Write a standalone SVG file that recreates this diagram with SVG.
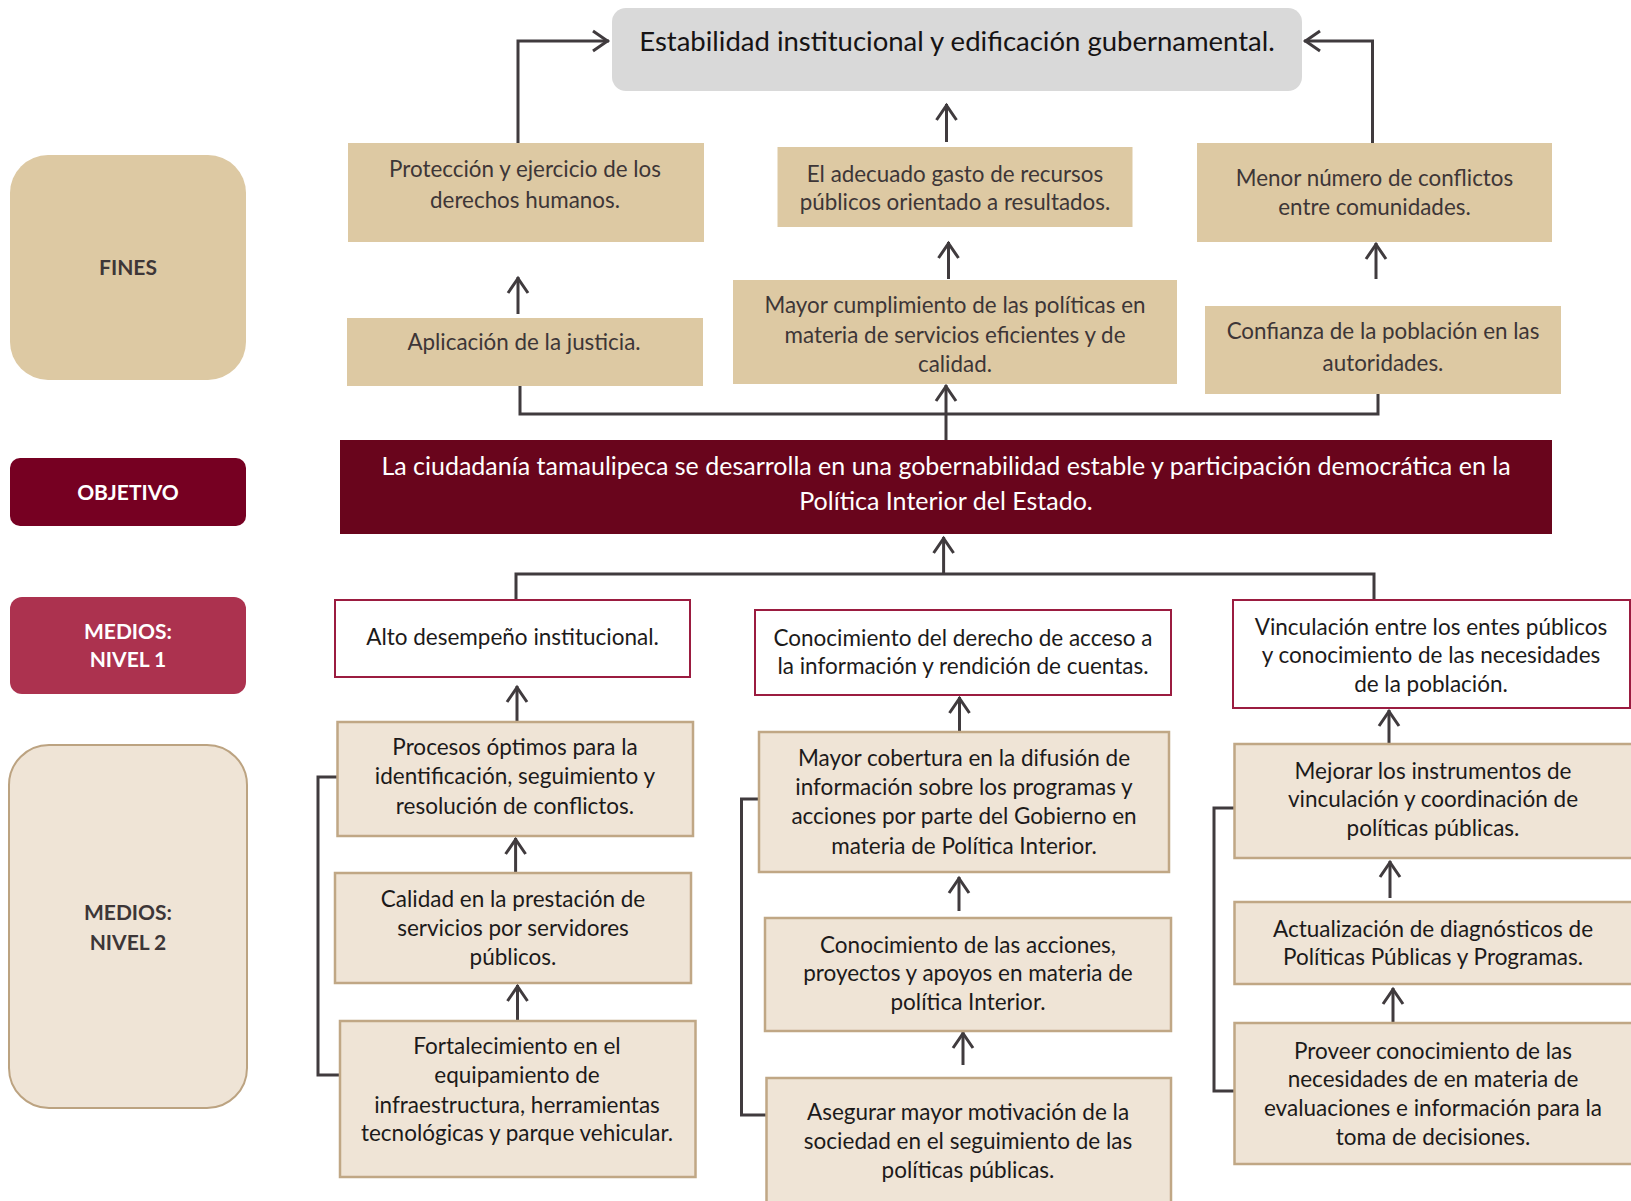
<svg xmlns="http://www.w3.org/2000/svg" width="1631" height="1201" viewBox="0 0 1631 1201">
<style>
text{font-family:Lato,"Open Sans","Liberation Sans",sans-serif;text-anchor:middle}
.fin{fill:#ddc9a3}
.ft{font-size:22.4px;fill:#3d3637}
.lab{font-size:21px;font-weight:bold}
.n1{fill:#fff;stroke:#9b1c40;stroke-width:2}
.n2{fill:#efe4d6;stroke:#c0a785;stroke-width:2.5}
.t{font-size:22.5px;fill:#1c1a1a}
.c{fill:none;stroke:#403b3e;stroke-width:3}
.a{marker-end:url(#ah)}
</style>
<defs>
<marker id="ah" markerUnits="userSpaceOnUse" markerWidth="40" markerHeight="40" viewBox="-20 -20 40 40" refX="0" refY="0" orient="auto" overflow="visible">
<path d="M-16,-10 L-1.5,0 L-16,10" fill="none" stroke="#403b3e" stroke-width="3"/>
</marker>
</defs>

<g id="connectors">
<path class="c a" d="M518,143 V41 H609"/>
<path class="c a" d="M1372.5,143 V41 H1304"/>
<path class="c a" d="M946.5,142 V104"/>
<path class="c a" d="M948.5,279 V242"/>
<path class="c a" d="M518,314 V277"/>
<path class="c a" d="M1376,279 V243"/>
<path class="c" d="M520,386 V414 H1378 V383"/>
<path class="c a" d="M946,440 V385"/>
<path class="c" d="M516,600 V574 H1374 V600"/>
<path class="c a" d="M943.6,574 V537"/>
<path class="c a" d="M517,722 V686"/>
<path class="c a" d="M959.5,732 V697"/>
<path class="c a" d="M1389,744 V710"/>
<path class="c a" d="M515.6,873 V838"/>
<path class="c a" d="M517.5,1021 V985"/>
<path class="c a" d="M959,911 V877"/>
<path class="c a" d="M963,1065 V1032"/>
<path class="c a" d="M1390,898 V861"/>
<path class="c a" d="M1393,1024 V988"/>
<path class="c" d="M337.5,777 H318 V1075 H340"/>
<path class="c" d="M759,799 H741.5 V1115 H766.5"/>
<path class="c" d="M1234.5,808 H1214 V1091 H1234.5"/>
</g>

<g id="fin-estabilidad">
<rect x="612" y="8" width="690" height="83" rx="14" fill="#d9d9d9"/>
<text x="957" y="51" style="font-size:27.5px;fill:#161314">Estabilidad institucional y edificación gubernamental.</text>
</g>

<g id="label-fines">
<rect x="10" y="155" width="236" height="225" rx="38" class="fin"/>
<text x="128" y="275" class="lab" fill="#3d3637">FINES</text>
</g>

<g id="fin-proteccion">
<rect x="348" y="143" width="356" height="99" class="fin"/>
<text x="525" y="177" class="ft">Protección y ejercicio de los</text>
<text x="525" y="208" class="ft">derechos humanos.</text>
</g>

<g id="fin-gasto">
<rect x="777.5" y="147" width="355" height="80" class="fin"/>
<text x="955" y="182" class="ft">El adecuado gasto de recursos</text>
<text x="955" y="210" class="ft">públicos orientado a resultados.</text>
</g>

<g id="fin-conflictos">
<rect x="1197" y="143" width="355" height="99" class="fin"/>
<text x="1374.5" y="186" class="ft">Menor número de conflictos</text>
<text x="1374.5" y="215" class="ft">entre comunidades.</text>
</g>

<g id="fin-justicia">
<rect x="347" y="318" width="356" height="68" class="fin"/>
<text x="524" y="350" class="ft">Aplicación de la justicia.</text>
</g>

<g id="fin-cumplimiento">
<rect x="733" y="280" width="444" height="104" class="fin"/>
<text x="955" y="313" class="ft">Mayor cumplimiento de las políticas en</text>
<text x="955" y="343" class="ft">materia de servicios eficientes y de</text>
<text x="955" y="372" class="ft">calidad.</text>
</g>

<g id="fin-confianza">
<rect x="1205" y="306" width="356" height="88" class="fin"/>
<text x="1383" y="339" class="ft">Confianza de la población en las</text>
<text x="1383" y="371" class="ft">autoridades.</text>
</g>

<g id="label-objetivo">
<rect x="10" y="458" width="236" height="68" rx="10" fill="#760022"/>
<text x="128" y="500" class="lab" fill="#fff">OBJETIVO</text>
</g>

<g id="objetivo">
<rect x="340" y="440" width="1212" height="94" fill="#69051c"/>
<text x="946" y="475" style="font-size:25px;fill:#fff">La ciudadanía tamaulipeca se desarrolla en una gobernabilidad estable y participación democrática en la</text>
<text x="946" y="510" style="font-size:25px;fill:#fff">Política Interior del Estado.</text>
</g>

<g id="label-medios1">
<rect x="10" y="597" width="236" height="97" rx="12" fill="#ac324f"/>
<text x="128" y="639" class="lab" fill="#fff">MEDIOS:</text>
<text x="128" y="667" class="lab" fill="#fff">NIVEL 1</text>
</g>

<g id="m1-desempeno">
<rect x="335" y="600" width="355" height="77" class="n1"/>
<text x="512.5" y="645" class="t">Alto desempeño institucional.</text>
</g>

<g id="m1-informacion">
<rect x="755" y="610" width="416" height="85" class="n1"/>
<text x="963" y="646" class="t">Conocimiento del derecho de acceso a</text>
<text x="963" y="674" class="t">la información y rendición de cuentas.</text>
</g>

<g id="m1-vinculacion">
<rect x="1233" y="600" width="397" height="108" class="n1"/>
<text x="1431" y="635" class="t">Vinculación entre los entes públicos</text>
<text x="1431" y="663" class="t">y conocimiento de las necesidades</text>
<text x="1431" y="692" class="t">de la población.</text>
</g>

<g id="label-medios2">
<rect x="9" y="745" width="238" height="363" rx="40" fill="#efe4d6" stroke="#bca381" stroke-width="2"/>
<text x="128" y="920" class="lab" fill="#3d3637">MEDIOS:</text>
<text x="128" y="950" class="lab" fill="#3d3637">NIVEL 2</text>
</g>

<g id="m2-procesos">
<rect x="337.5" y="722" width="355.5" height="114" class="n2"/>
<text x="515" y="755" class="t">Procesos óptimos para la</text>
<text x="515" y="784" class="t">identificación, seguimiento y</text>
<text x="515" y="814" class="t">resolución de conflictos.</text>
</g>

<g id="m2-calidad">
<rect x="335" y="873" width="356" height="110" class="n2"/>
<text x="513" y="907" class="t">Calidad en la prestación de</text>
<text x="513" y="936" class="t">servicios por servidores</text>
<text x="513" y="965" class="t">públicos.</text>
</g>

<g id="m2-fortalecimiento">
<rect x="340" y="1021" width="355.5" height="156" class="n2"/>
<text x="517" y="1054" class="t">Fortalecimiento en el</text>
<text x="517" y="1083" class="t">equipamiento de</text>
<text x="517" y="1113" class="t">infraestructura, herramientas</text>
<text x="517" y="1141" class="t">tecnológicas y parque vehicular.</text>
</g>

<g id="m2-cobertura">
<rect x="759" y="732" width="410" height="140" class="n2"/>
<text x="964" y="766" class="t">Mayor cobertura en la difusión de</text>
<text x="964" y="795" class="t">información sobre los programas y</text>
<text x="964" y="824" class="t">acciones por parte del Gobierno en</text>
<text x="964" y="854" class="t">materia de Política Interior.</text>
</g>

<g id="m2-acciones">
<rect x="765" y="918" width="406" height="113" class="n2"/>
<text x="968" y="953" class="t">Conocimiento de las acciones,</text>
<text x="968" y="981" class="t">proyectos y apoyos en materia de</text>
<text x="968" y="1010" class="t">política Interior.</text>
</g>

<g id="m2-motivacion">
<rect x="766.5" y="1078" width="404.5" height="140" class="n2"/>
<text x="968" y="1120" class="t">Asegurar mayor motivación de la</text>
<text x="968" y="1149" class="t">sociedad en el seguimiento de las</text>
<text x="968" y="1178" class="t">políticas públicas.</text>
</g>

<g id="m2-instrumentos">
<rect x="1234.5" y="744" width="400" height="114" class="n2"/>
<text x="1433" y="779" class="t">Mejorar los instrumentos de</text>
<text x="1433" y="807" class="t">vinculación y coordinación de</text>
<text x="1433" y="836" class="t">políticas públicas.</text>
</g>

<g id="m2-diagnosticos">
<rect x="1234.5" y="902" width="400" height="82" class="n2"/>
<text x="1433" y="937" class="t">Actualización de diagnósticos de</text>
<text x="1433" y="965" class="t">Políticas Públicas y Programas.</text>
</g>

<g id="m2-necesidades">
<rect x="1234.5" y="1023" width="400" height="141" class="n2"/>
<text x="1433" y="1059" class="t">Proveer conocimiento de las</text>
<text x="1433" y="1087" class="t">necesidades de en materia de</text>
<text x="1433" y="1116" class="t">evaluaciones e información para la</text>
<text x="1433" y="1145" class="t">toma de decisiones.</text>
</g>
</svg>
